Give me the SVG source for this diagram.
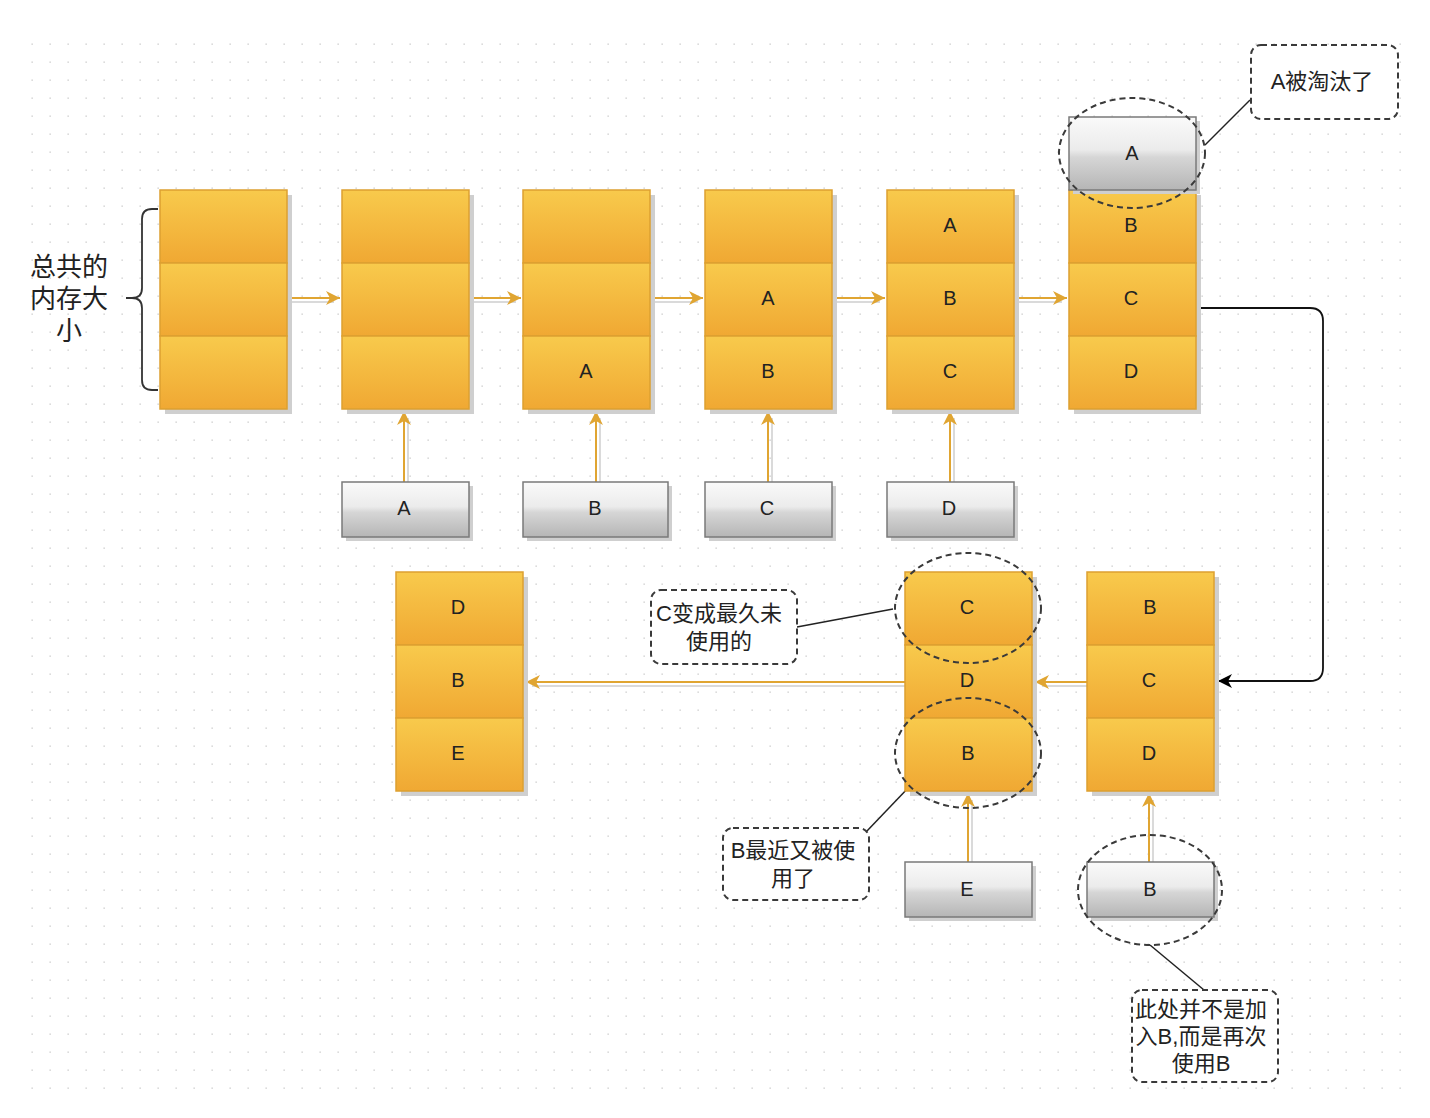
<svg xmlns="http://www.w3.org/2000/svg" width="1430" height="1118" viewBox="0 0 1430 1118">
<defs>
<pattern id="grid" x="31" y="43" width="18" height="18" patternUnits="userSpaceOnUse">
<rect x="0.5" y="0.5" width="1.3" height="1.3" fill="#c8c8c8"/>
</pattern>
<linearGradient id="og" x1="0" y1="0" x2="0" y2="1">
<stop offset="0" stop-color="#F8CA4C"/>
<stop offset="1" stop-color="#F0A833"/>
</linearGradient>
<linearGradient id="gg" x1="0" y1="0" x2="0" y2="1">
<stop offset="0" stop-color="#FAFAFA"/>
<stop offset="0.45" stop-color="#EBEBEB"/>
<stop offset="0.55" stop-color="#D6D6D6"/>
<stop offset="1" stop-color="#B5B5B5"/>
</linearGradient>
<marker id="oa" markerUnits="userSpaceOnUse" markerWidth="16" markerHeight="14" refX="14" refY="7" orient="auto">
<path d="M0,0 L14,7 L0,14 L4,7 Z" fill="#E0A532"/>
</marker>
<marker id="ba" markerUnits="userSpaceOnUse" markerWidth="16" markerHeight="14" refX="14" refY="7" orient="auto">
<path d="M0,0 L14,7 L0,14 L4,7 Z" fill="#000"/>
</marker>
</defs>
<style>
.cell{fill:url(#og);stroke:#DDA030;stroke-width:1.5}
.sh{fill:#CFCFCF}
.gb{fill:url(#gg);stroke:#7A7A7A;stroke-width:1.5}
.t{font-family:"Liberation Sans",Arial,sans-serif;font-size:20px;fill:#222;text-anchor:middle;dominant-baseline:central}
.z{font-family:"Liberation Sans","Noto Sans CJK SC",sans-serif;font-size:22px;fill:#222;text-anchor:middle}
.zb{font-family:"Liberation Sans","Noto Sans CJK SC",sans-serif;font-size:26px;fill:#222;text-anchor:middle}
.oline{stroke:#E0A532;stroke-width:2;fill:none}
.oshadow{stroke:#DADADA;stroke-width:2;fill:none}
.dash{fill:none;stroke:#3A3A3A;stroke-width:2;stroke-dasharray:6 4}
.call{fill:#fff;stroke:#3A3A3A;stroke-width:2;stroke-dasharray:6 4}
.ln{stroke:#222;stroke-width:1.5;fill:none}
</style>
<rect width="1430" height="1118" fill="#fff"/>
<rect x="31" y="43" width="1382" height="1050" fill="url(#grid)"/>

<g id="label-total">
<path d="M158,209 H152 Q142,209 142,219 V288 Q142,298 132,298 H126 M132,298 Q142,298 142,308 V380 Q142,390 152,390 H158" fill="none" stroke="#333" stroke-width="1.8"/>
<text class="zb" x="69" y="276">总共的</text>
<text class="zb" x="69" y="308">内存大</text>
<text class="zb" x="69" y="340">小</text>
</g>

<g id="connectors">
<g>
<line class="oshadow" x1="288" y1="302" x2="334" y2="302"/>
<line class="oline" x1="288" y1="298" x2="340" y2="298" marker-end="url(#oa)"/>
<line class="oshadow" x1="470" y1="302" x2="516" y2="302"/>
<line class="oline" x1="470" y1="298" x2="521" y2="298" marker-end="url(#oa)"/>
<line class="oshadow" x1="651" y1="302" x2="698" y2="302"/>
<line class="oline" x1="651" y1="298" x2="703" y2="298" marker-end="url(#oa)"/>
<line class="oshadow" x1="833" y1="302" x2="880" y2="302"/>
<line class="oline" x1="833" y1="298" x2="885" y2="298" marker-end="url(#oa)"/>
<line class="oshadow" x1="1015" y1="302" x2="1062" y2="302"/>
<line class="oline" x1="1015" y1="298" x2="1067" y2="298" marker-end="url(#oa)"/>
</g>
<g>
<line class="oshadow" x1="408" y1="482" x2="408" y2="418"/>
<line class="oline" x1="404" y1="482" x2="404" y2="411" marker-end="url(#oa)"/>
<line class="oshadow" x1="600" y1="482" x2="600" y2="418"/>
<line class="oline" x1="596" y1="482" x2="596" y2="411" marker-end="url(#oa)"/>
<line class="oshadow" x1="772" y1="482" x2="772" y2="418"/>
<line class="oline" x1="768" y1="482" x2="768" y2="411" marker-end="url(#oa)"/>
<line class="oshadow" x1="954" y1="482" x2="954" y2="418"/>
<line class="oline" x1="950" y1="482" x2="950" y2="411" marker-end="url(#oa)"/>
<line class="oshadow" x1="972" y1="862" x2="972" y2="800"/>
<line class="oline" x1="968" y1="862" x2="968" y2="793" marker-end="url(#oa)"/>
<line class="oshadow" x1="1153" y1="862" x2="1153" y2="800"/>
<line class="oline" x1="1149" y1="862" x2="1149" y2="793" marker-end="url(#oa)"/>
</g>
<g>
<line class="oshadow" x1="1087" y1="686" x2="1042" y2="686"/>
<line class="oline" x1="1087" y1="682" x2="1035" y2="682" marker-end="url(#oa)"/>
<line class="oshadow" x1="905" y1="686" x2="532" y2="686"/>
<line class="oline" x1="905" y1="682" x2="526" y2="682" marker-end="url(#oa)"/>
</g>
<path d="M1197,308 H1310 Q1323,308 1323,321 V668 Q1323,681 1310,681 H1218" fill="none" stroke="#111" stroke-width="1.8" marker-end="url(#ba)"/>
<line class="ln" x1="1250" y1="100" x2="1205" y2="145"/>
<line class="ln" x1="797" y1="627" x2="893" y2="609"/>
<line class="ln" x1="866" y1="832" x2="910" y2="786"/>
<line class="ln" x1="1150" y1="945" x2="1204" y2="990"/>
</g>

<g id="stack1">
<rect class="sh" x="165" y="195" width="127" height="219"/>
<rect class="cell" x="160" y="190" width="127" height="73"/>
<rect class="cell" x="160" y="263" width="127" height="73"/>
<rect class="cell" x="160" y="336" width="127" height="73"/>
</g>
<g id="stack2">
<rect class="sh" x="347" y="195" width="127" height="219"/>
<rect class="cell" x="342" y="190" width="127" height="73"/>
<rect class="cell" x="342" y="263" width="127" height="73"/>
<rect class="cell" x="342" y="336" width="127" height="73"/>
</g>
<g id="stack3">
<rect class="sh" x="528" y="195" width="127" height="219"/>
<rect class="cell" x="523" y="190" width="127" height="73"/>
<rect class="cell" x="523" y="263" width="127" height="73"/>
<rect class="cell" x="523" y="336" width="127" height="73"/>
<text class="t" x="586" y="371">A</text>
</g>
<g id="stack4">
<rect class="sh" x="710" y="195" width="127" height="219"/>
<rect class="cell" x="705" y="190" width="127" height="73"/>
<rect class="cell" x="705" y="263" width="127" height="73"/>
<rect class="cell" x="705" y="336" width="127" height="73"/>
<text class="t" x="768" y="298">A</text>
<text class="t" x="768" y="371">B</text>
</g>
<g id="stack5">
<rect class="sh" x="892" y="195" width="127" height="219"/>
<rect class="cell" x="887" y="190" width="127" height="73"/>
<rect class="cell" x="887" y="263" width="127" height="73"/>
<rect class="cell" x="887" y="336" width="127" height="73"/>
<text class="t" x="950" y="225">A</text>
<text class="t" x="950" y="298">B</text>
<text class="t" x="950" y="371">C</text>
</g>
<g id="stack6">
<rect class="sh" x="1074" y="195" width="127" height="219"/>
<rect class="cell" x="1069" y="190" width="127" height="73"/>
<rect class="cell" x="1069" y="263" width="127" height="73"/>
<rect class="cell" x="1069" y="336" width="127" height="73"/>
<text class="t" x="1131" y="225">B</text>
<text class="t" x="1131" y="298">C</text>
<text class="t" x="1131" y="371">D</text>
</g>
<g id="evicted-A">
<rect class="sh" x="1073" y="121" width="127" height="73"/>
<rect class="gb" x="1069" y="117" width="127" height="73"/>
<text class="t" x="1132" y="153">A</text>
<ellipse class="dash" cx="1132" cy="153" rx="73" ry="55"/>
</g>
<g id="note-evicted">
<rect class="call" x="1251" y="45" width="147" height="74" rx="10"/>
<text class="z" x="1322" y="89">A被淘汰了</text>
</g>

<g id="in-A">
<rect class="sh" x="346" y="486" width="127" height="55"/>
<rect class="gb" x="342" y="482" width="127" height="55"/>
<text class="t" x="404" y="508">A</text>
</g>
<g id="in-B">
<rect class="sh" x="527" y="486" width="145" height="55"/>
<rect class="gb" x="523" y="482" width="145" height="55"/>
<text class="t" x="595" y="508">B</text>
</g>
<g id="in-C">
<rect class="sh" x="709" y="486" width="127" height="55"/>
<rect class="gb" x="705" y="482" width="127" height="55"/>
<text class="t" x="767" y="508">C</text>
</g>
<g id="in-D">
<rect class="sh" x="891" y="486" width="127" height="55"/>
<rect class="gb" x="887" y="482" width="127" height="55"/>
<text class="t" x="949" y="508">D</text>
</g>

<g id="stack7">
<rect class="sh" x="1092" y="577" width="127" height="219"/>
<rect class="cell" x="1087" y="572" width="127" height="73"/>
<rect class="cell" x="1087" y="645" width="127" height="73"/>
<rect class="cell" x="1087" y="718" width="127" height="73"/>
<text class="t" x="1150" y="607">B</text>
<text class="t" x="1149" y="680">C</text>
<text class="t" x="1149" y="753">D</text>
</g>
<g id="stack8">
<rect class="sh" x="910" y="577" width="127" height="219"/>
<rect class="cell" x="905" y="572" width="127" height="73"/>
<rect class="cell" x="905" y="645" width="127" height="73"/>
<rect class="cell" x="905" y="718" width="127" height="73"/>
<text class="t" x="967" y="607">C</text>
<text class="t" x="967" y="680">D</text>
<text class="t" x="968" y="753">B</text>
<ellipse class="dash" cx="968" cy="608" rx="73" ry="55"/>
<ellipse class="dash" cx="968" cy="753" rx="73" ry="55"/>
</g>
<g id="stack9">
<rect class="sh" x="401" y="577" width="127" height="219"/>
<rect class="cell" x="396" y="572" width="127" height="73"/>
<rect class="cell" x="396" y="645" width="127" height="73"/>
<rect class="cell" x="396" y="718" width="127" height="73"/>
<text class="t" x="458" y="607">D</text>
<text class="t" x="458" y="680">B</text>
<text class="t" x="458" y="753">E</text>
</g>

<g id="in-E">
<rect class="sh" x="909" y="866" width="127" height="55"/>
<rect class="gb" x="905" y="862" width="127" height="55"/>
<text class="t" x="967" y="889">E</text>
</g>
<g id="in-B2">
<rect class="sh" x="1091" y="866" width="127" height="55"/>
<rect class="gb" x="1087" y="862" width="127" height="55"/>
<text class="t" x="1150" y="889">B</text>
<ellipse class="dash" cx="1150" cy="890" rx="72" ry="55"/>
</g>

<g id="note-C">
<rect class="call" x="651" y="590" width="146" height="74" rx="10"/>
<text class="z" x="719" y="621">C变成最久未</text>
<text class="z" x="719" y="649">使用的</text>
</g>
<g id="note-B">
<rect class="call" x="723" y="828" width="146" height="72" rx="10"/>
<text class="z" x="793" y="858">B最近又被使</text>
<text class="z" x="793" y="886">用了</text>
</g>
<g id="note-B2">
<rect class="call" x="1132" y="990" width="146" height="92" rx="10"/>
<text class="z" x="1201" y="1017">此处并不是加</text>
<text class="z" x="1201" y="1044">入B,而是再次</text>
<text class="z" x="1201" y="1071">使用B</text>
</g>
</svg>
